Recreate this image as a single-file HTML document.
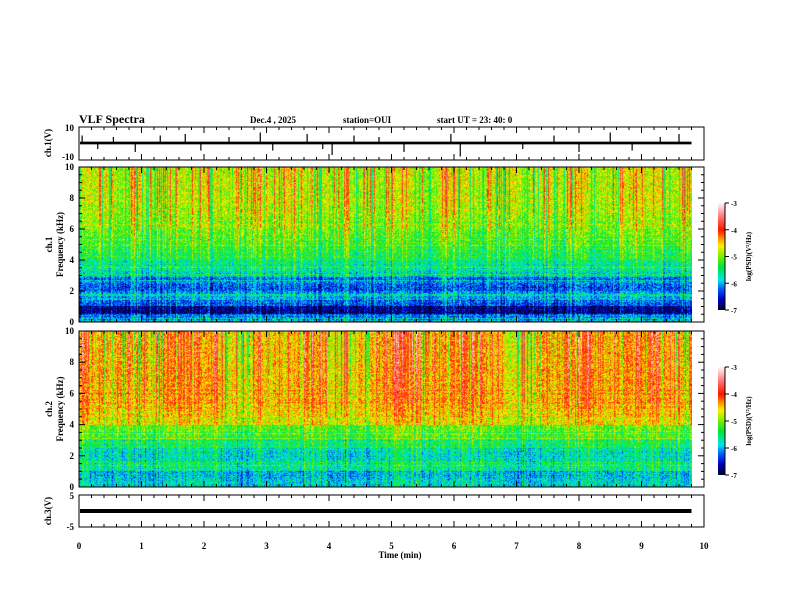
<!DOCTYPE html>
<html><head><meta charset="utf-8"><style>
body{margin:0;background:#fff;width:792px;height:612px;overflow:hidden}
svg{position:absolute;left:0;top:0}
canvas{position:absolute}
text{font-family:"Liberation Serif",serif;font-weight:bold;fill:#000}
</style></head><body>
<canvas id="c1" width="613" height="155" style="left:79px;top:167px"></canvas>
<canvas id="c2" width="613" height="156" style="left:79px;top:331px"></canvas>
<canvas id="cb1" width="7" height="107" style="left:718px;top:203px"></canvas>
<canvas id="cb2" width="7" height="108" style="left:718px;top:367px"></canvas>
<svg id="s" width="792" height="612"></svg>
<script>
// ---- data ----
const timeTicks=[0,1,2,3,4,5,6,7,8,9,10];
const freqTicks=[0,2,4,6,8,10];
const cbTicks=[-3,-4,-5,-6,-7];
// log PSD base per 0.5 kHz band (0 -> 10 kHz)
const ch1Freq=[-6.2,-6.8,-6.3,-6.1,-6.3,-6.2,-5.8,-5.6,-5.4,-5.3,-5.2,-5.1,-5.0,-4.95,-4.9,-4.85,-4.85,-4.8,-4.8,-4.8];
const ch2Freq=[-5.8,-6.0,-5.6,-5.8,-5.7,-5.5,-5.3,-5.1,-4.7,-4.6,-4.5,-4.45,-4.45,-4.45,-4.45,-4.45,-4.45,-4.45,-4.45,-4.45];
// time modulation per 0.2 min (0 -> 9.8 min)
const ch1Time=[0.2,0.0,0.1,-0.1,0.3,0.0,-0.1,0.1,0.0,0.1,0.2,0.0,-0.1,0.1,0.3,0.0,0.2,0.3,0.2,0.0,-0.2,0.0,-0.1,0.0,-0.1,0.1,0.0,-0.1,0.0,0.2,0.1,0.0,-0.2,0.0,0.1,-0.1,0.0,0.1,0.0,0.2,0.1,0.0,-0.1,0.1,0.2,0.0,0.1,0.0,0.1];
const ch2Time=[0.3,0.1,-0.1,0.1,0.0,-0.1,0.0,0.3,0.3,0.0,0.1,-0.2,-0.3,-0.2,-0.1,0.0,-0.2,0.1,0.3,0.2,-0.3,-0.2,-0.1,0.0,0.1,0.3,0.4,0.2,0.0,0.1,0.3,0.3,0.1,-0.1,-0.3,-0.3,-0.1,0.0,0.1,0.3,0.4,0.2,0.0,0.1,0.2,0.3,0.1,0.0,0.1];
// ch1 waveform spikes: time (min), amplitude (V)
const spikeT=[0.05,0.3,0.55,0.9,1.3,1.7,1.95,2.4,2.9,3.1,3.65,3.9,4.05,4.4,4.8,5.2,5.95,6.1,6.5,7.1,7.6,8.0,8.5,8.85,9.3,9.6];
const spikeV=[5,-4,4,-6,5,6,-5,4,7,-5,6,-4,-8,5,4,-6,6,-9,5,-4,5,-6,7,-5,4,6];
const ch3Level=[-1.1];
const tEnd=9.8;
// ---- axes ----
const X0=79,X1=704;
const xs=t=>X0+(X1-X0)*t/10;
function cmap(v){
  const st=[[-7,[0,0,40]],[-6.6,[0,0,200]],[-6.2,[0,100,255]],[-5.9,[0,230,240]],[-5.4,[0,230,60]],[-5.0,[120,240,0]],[-4.6,[255,240,0]],[-4.3,[255,140,0]],[-4.0,[255,20,0]],[-3.5,[255,120,120]],[-3,[255,245,245]]];
  if(v<=st[0][0])return st[0][1];
  for(let i=1;i<st.length;i++){if(v<=st[i][0]){const a=st[i-1],b=st[i],f=(v-a[0])/(b[0]-a[0]);return a[1].map((c,k)=>c+(b[1][k]-c)*f);}}
  return st[st.length-1][1];
}
function h(a,b){let x=(a*374761393+b*668265263)|0;x=(x^(x>>>13))*1274126177|0;return ((x^(x>>>16))>>>0)/4294967296;}
function spec(id,fr,tm,seed){
  const c=document.getElementById(id),g=c.getContext('2d'),W=c.width,H=c.height,im=g.createImageData(W,H);
  const colN=[];for(let x=0;x<W;x++){const r=h(x,seed);colN.push(r<0.12?0.9:(r>0.88?-0.8:(r-0.5)*0.8));}
  const rowN=[];for(let y=0;y<H;y++){const r=h(y,seed+7);rowN.push(r<0.1?0.7:(r-0.5)*0.5);}
  for(let y=0;y<H;y++){const f=10*(1-(y+0.5)/H);const fi=Math.min(fr.length-1,Math.floor(f/0.5));
    for(let x=0;x<W;x++){const t=tEnd*(x+0.5)/W;const ti=Math.min(tm.length-1,Math.floor(t/0.2));
      const w=Math.max(0.35,f/10);
      let v=fr[fi]+tm[ti]*w+colN[x]*w+rowN[y]*(1-w)*0.8+(h(x*977+y,seed)-0.5)*0.8;
      const col=cmap(v),p=(y*W+x)*4;im.data[p]=col[0];im.data[p+1]=col[1];im.data[p+2]=col[2];im.data[p+3]=255;}}
  g.putImageData(im,0,0);
}
spec('c1',ch1Freq,ch1Time,11);spec('c2',ch2Freq,ch2Time,29);
function cbar(id){const c=document.getElementById(id),g=c.getContext('2d');for(let y=0;y<c.height;y++){const v=-3-4*y/(c.height-1);const k=cmap(v);g.fillStyle=`rgb(${k[0]|0},${k[1]|0},${k[2]|0})`;g.fillRect(0,y,c.width,1);}}
cbar('cb1');cbar('cb2');
// ---- svg ----
const S=document.getElementById('s'),NS='http://www.w3.org/2000/svg';
function el(tag,at,txt){const e=document.createElementNS(NS,tag);for(const k in at)e.setAttribute(k,at[k]);if(txt!==undefined)e.textContent=txt;S.appendChild(e);return e;}
function txt(x,y,s,size,anchor,name,rot){const e=el('text',{x:x,y:y,'font-size':size,'text-anchor':anchor||'start'},s);if(rot)e.setAttribute('transform',`rotate(-90 ${x} ${y})`);

return e;}
txt(79,123,'VLF Spectra',12,'start','title');
txt(250,123,'Dec.4 , 2025',9,'start','date-label');
txt(343,123,'station=OUI',9,'start','station-label');
txt(437,123,'start  UT =  23: 40: 0',9,'start','start-time-label');
const panels=[{n:'ch1-wave',t:127,b:160},{n:'ch1-spec',t:167,b:322},{n:'ch2-spec',t:331,b:487},{n:'ch3-wave',t:495,b:527}];
panels.forEach(p=>{
  const r=el('rect',{x:X0,y:p.t,width:X1-X0,height:p.b-p.t,fill:'none',stroke:'#000','stroke-width':1});
  
  
  for(let i=0;i<=50;i++){const x=xs(i*0.2),L=(i%5==0)?6:3;
    el('line',{x1:x,y1:p.t,x2:x,y2:p.t+L,stroke:'#000'});el('line',{x1:x,y1:p.b,x2:x,y2:p.b-L,stroke:'#000'});}
});
// freq axes
[[167,322,'ch.1'],[331,487,'ch.2']].forEach(([t,b,nm])=>{
  for(let f=0;f<=10;f+=0.5){const y=b-(b-t)*f/10,L=(f%2==0)?6:3;el('line',{x1:X0,y1:y,x2:X0+L,y2:y,stroke:'#000'});el('line',{x1:X1,y1:y,x2:X1-L,y2:y,stroke:'#000'});}
  freqTicks.forEach(f=>{txt(74,b-(b-t)*f/10+3,String(f),9,'end','freq-tick-label');});
  txt(52,(t+b)/2,nm,9,'middle',nm.replace('.','')+'-label',true);
  txt(63,(t+b)/2,'Frequency  (kHz)',9,'middle','frequency-axis-title',true);
});
// ch1 waveform
txt(74,131,'10',9,'end','ch1-ytick');txt(74,160,'-10',9,'end','ch1-ytick');
txt(51,143,'ch.1(V)',9,'middle','ch1-wave-title',true);
const wy=v=>143-v*1.5;
el('rect',{x:X0+1,y:wy(0.9),width:xs(tEnd)-X0-1,height:1.8*1.5,fill:'#000'});
spikeT.forEach((t,i)=>{const l=el('line',{x1:xs(t),y1:wy(0),x2:xs(t),y2:wy(spikeV[i]),stroke:'#000','stroke-width':1.2});

});
// ch3
txt(74,499,'5',9,'end','ch3-ytick');txt(74,530,'-5',9,'end','ch3-ytick');
txt(51,511,'ch.3(V)',9,'middle','ch3-wave-title',true);
const y3=511+(ch3Level[0]+1.1)*3;
const l3=el('line',{x1:X0+1,y1:y3,x2:xs(tEnd),y2:y3,stroke:'#000','stroke-width':4});

// time axis
timeTicks.forEach(t=>txt(xs(t),549,String(t),9,'middle','time-tick-label'));
txt(400,558,'Time  (min)',9,'middle','time-axis-title');
// colorbars
[[203,310,'cb1'],[367,475,'cb2']].forEach(([t,b,nm])=>{
  el('line',{x1:725,y1:t,x2:725,y2:b,stroke:'#000'});
  cbTicks.forEach(v=>{const y=t+(b-t)*(-3-v)/4;el('line',{x1:725,y1:y,x2:729,y2:y,stroke:'#000'});txt(731,y+3,String(v),7,'start',nm+'-tick');});
  txt(751,(t+b)/2,'log(PSD)(V²/Hz)',7,'middle',nm+'-title',true);
});
</script>
</body></html>
